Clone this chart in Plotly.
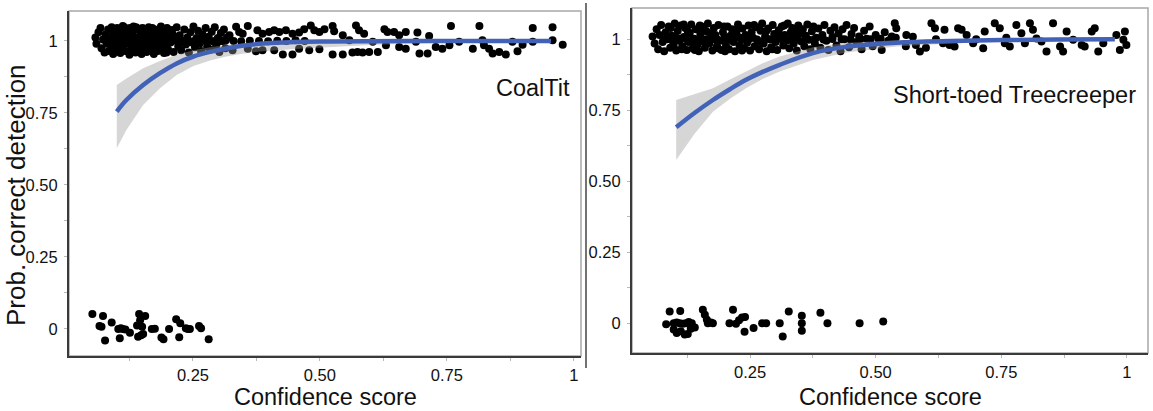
import plotly.graph_objects as go

# ---------------- CoalTit ----------------
coal_hit_x = [
    0.058, 0.060, 0.064, 0.068, 0.070, 0.073, 0.076, 0.078, 0.080, 0.083,
    0.085, 0.087, 0.089, 0.091, 0.093, 0.095, 0.097, 0.099, 0.101, 0.103,
    0.105, 0.107, 0.109, 0.111, 0.113, 0.115, 0.117, 0.119, 0.121, 0.123,
    0.125, 0.127, 0.129, 0.131, 0.133, 0.135, 0.137, 0.139, 0.141, 0.143,
    0.145, 0.147, 0.149, 0.151, 0.153, 0.155, 0.157, 0.159, 0.161, 0.163,
    0.165, 0.167, 0.169, 0.171, 0.173, 0.175, 0.177, 0.179, 0.181, 0.183,
    0.185, 0.187, 0.189, 0.191, 0.193, 0.195, 0.197, 0.199, 0.201, 0.203,
    0.206, 0.209, 0.212, 0.215, 0.218, 0.221, 0.224, 0.227, 0.230, 0.233,
    0.236, 0.239, 0.242, 0.245, 0.248, 0.251, 0.254, 0.257, 0.260, 0.263,
    0.266, 0.269, 0.272, 0.275, 0.278, 0.281, 0.284, 0.287, 0.290, 0.293,
    0.296, 0.299, 0.302, 0.305, 0.308, 0.311, 0.314, 0.317,
    0.082, 0.094, 0.102, 0.108, 0.116, 0.122, 0.128, 0.134, 0.140, 0.146,
    0.152, 0.158, 0.164, 0.170, 0.176, 0.182, 0.188, 0.194, 0.200, 0.210,
    0.220, 0.090, 0.112, 0.126, 0.138, 0.150, 0.162, 0.174, 0.186, 0.198,
    0.322, 0.328, 0.335, 0.341, 0.348, 0.358, 0.358, 0.374, 0.377, 0.387,
    0.387, 0.400, 0.410, 0.410, 0.420, 0.427, 0.433, 0.446, 0.446, 0.459,
    0.459, 0.469, 0.479, 0.482, 0.489, 0.499, 0.499, 0.509, 0.525, 0.525,
    0.528, 0.545, 0.545, 0.558, 0.564, 0.571, 0.574, 0.577, 0.584, 0.587,
    0.597, 0.604, 0.614, 0.627, 0.630, 0.633, 0.646, 0.656, 0.656, 0.669,
    0.669, 0.689, 0.692, 0.696, 0.712, 0.715, 0.728, 0.741, 0.755, 0.758,
    0.774, 0.801, 0.814, 0.820, 0.823, 0.833, 0.840, 0.853, 0.866, 0.879,
    0.889, 0.899, 0.919, 0.919, 0.958, 0.958, 0.978,
    0.110, 0.124, 0.136, 0.148, 0.160, 0.172, 0.184, 0.196, 0.208, 0.219,
    0.231, 0.243, 0.255, 0.267, 0.279, 0.291, 0.303, 0.315, 0.330, 0.345,
    0.362, 0.380, 0.398, 0.416, 0.434, 0.452, 0.470,
]
coal_hit_y = [
    1.012, 0.990, 1.030, 1.045, 0.975, 1.005, 0.960, 1.022, 0.990, 1.040,
    0.965, 1.010, 0.985, 1.035, 0.955, 1.000, 1.020, 0.970, 1.045, 0.990,
    1.010, 0.958, 1.030, 0.980, 1.000, 1.048, 0.965, 1.015, 0.990, 1.035,
    0.952, 1.005, 0.975, 1.025, 1.050, 0.985, 0.960, 1.012, 1.040, 0.995,
    0.970, 1.020, 0.955, 1.045, 1.000, 0.980, 1.030, 0.962, 1.010, 1.048,
    0.990, 0.968, 1.025, 1.002, 0.955, 1.040, 0.985, 1.015, 0.965, 1.035,
    0.995, 1.050, 0.975, 1.008, 0.958, 1.028, 0.988, 1.045, 0.970, 1.015,
    0.995, 1.038, 0.962, 1.005, 1.048, 0.982, 1.020, 0.968, 1.000, 1.040,
    0.988, 1.012, 0.960, 1.030, 0.995, 1.050, 0.978, 1.010, 1.035, 0.990,
    0.965, 1.022, 1.002, 1.045, 0.980, 1.015, 0.970, 1.032, 0.998, 1.048,
    0.985, 1.010, 0.962, 1.028, 1.000, 1.040, 0.975, 1.012,
    1.000, 1.025, 0.975, 1.040, 0.995, 1.020, 0.962, 1.008, 0.980, 1.042,
    1.018, 0.995, 0.972, 1.045, 1.012, 0.990, 1.030, 0.968, 1.000, 1.022,
    0.998, 1.048, 1.052, 1.045, 1.048, 0.985, 1.035, 0.985, 1.020, 0.960,
    1.020, 0.968, 1.049, 1.031, 1.025, 1.052, 0.973, 0.964, 1.037, 1.025,
    0.968, 1.031, 1.037, 0.968, 1.031, 0.953, 1.037, 1.025, 0.953, 1.029,
    0.973, 1.041, 0.968, 1.054, 1.037, 1.031, 0.971, 1.041, 1.052, 0.953,
    1.034, 1.020, 0.953, 1.002, 0.960, 1.054, 0.962, 1.037, 0.960, 1.025,
    0.962, 0.997, 0.962, 1.041, 0.985, 1.031, 1.031, 1.020, 0.979, 1.031,
    0.973, 0.997, 1.029, 0.956, 0.956, 1.017, 0.979, 0.973, 0.985, 1.052,
    0.997, 0.973, 1.052, 1.002, 0.985, 0.973, 0.956, 0.962, 0.953, 0.997,
    0.964, 0.987, 1.045, 0.997, 1.048, 1.002, 0.987,
    1.001, 0.999, 1.002, 1.000, 0.999, 1.001, 1.000, 1.002, 0.999, 1.001,
    1.000, 0.999, 1.002, 1.000, 1.001, 0.999, 1.000, 1.002, 1.000, 0.999,
    1.001, 1.000, 0.999, 1.001, 1.000, 1.002, 1.000,
]
coal_miss_x = [
    0.052, 0.073, 0.066, 0.070, 0.077, 0.090, 0.103, 0.108, 0.112, 0.117,
    0.106, 0.126, 0.144, 0.156, 0.140, 0.146, 0.150, 0.152, 0.142, 0.148,
    0.169, 0.175, 0.188, 0.192, 0.203, 0.217, 0.225, 0.236, 0.240, 0.244,
    0.223, 0.262, 0.266, 0.281,
]
coal_miss_y = [
    0.052, 0.045, 0.010, 0.008, -0.040, 0.022, 0.000, 0.002, 0.000, -0.002,
    -0.032, -0.013, 0.052, 0.045, 0.012, 0.030, 0.008, -0.018, -0.027, -0.022,
    0.000, 0.001, -0.030, -0.036, 0.000, 0.034, 0.020, 0.002, 0.000, 0.000,
    -0.029, 0.010, 0.002, -0.036,
]
coal_fit_x = [0.100, 0.119, 0.152, 0.185, 0.218, 0.251, 0.284, 0.316, 0.350,
              0.382, 0.450, 0.513, 0.600, 0.700, 0.800, 0.955]
coal_fit_y = [0.755, 0.795, 0.847, 0.888, 0.922, 0.946, 0.962, 0.974, 0.984,
              0.990, 0.996, 0.998, 0.999, 1.000, 1.000, 1.000]
coal_ci_hi = [0.847, 0.870, 0.905, 0.930, 0.952, 0.968, 0.978, 0.986, 0.991,
              0.995, 0.998, 0.999, 1.000, 1.000, 1.000, 1.000]
coal_ci_lo = [0.627, 0.691, 0.778, 0.836, 0.882, 0.913, 0.932, 0.946, 0.956,
              0.963, 0.972, 0.978, 0.986, 0.992, 0.995, 0.998]

# ---------------- Short-toed Treecreeper ----------------
tree_hit_x = [
    0.056, 0.060, 0.064, 0.067, 0.070, 0.073, 0.076, 0.079, 0.082, 0.085,
    0.088, 0.091, 0.094, 0.097, 0.100, 0.103, 0.106, 0.109, 0.112, 0.115,
    0.118, 0.121, 0.124, 0.127, 0.130, 0.133, 0.136, 0.139, 0.142, 0.145,
    0.148, 0.151, 0.154, 0.157, 0.160, 0.163, 0.166, 0.169, 0.172, 0.175,
    0.178, 0.181, 0.184, 0.187, 0.190, 0.193, 0.196, 0.199, 0.202, 0.205,
    0.208, 0.211, 0.214, 0.217, 0.220, 0.223, 0.226, 0.229, 0.232, 0.235,
    0.238, 0.241, 0.244, 0.247, 0.250, 0.253, 0.256, 0.259, 0.262, 0.265,
    0.268, 0.271, 0.274, 0.277, 0.280, 0.283, 0.286, 0.289, 0.292, 0.295,
    0.298, 0.301, 0.304, 0.307, 0.310, 0.313, 0.316, 0.319, 0.322, 0.325,
    0.328, 0.331, 0.334, 0.337, 0.340, 0.343, 0.346, 0.349, 0.352, 0.355,
    0.358, 0.361, 0.364, 0.367, 0.370, 0.373, 0.376, 0.379, 0.382, 0.386,
    0.390, 0.394, 0.398, 0.402, 0.406, 0.410, 0.414, 0.418, 0.422, 0.426,
    0.430, 0.434, 0.438, 0.442, 0.447, 0.452, 0.457, 0.462, 0.467, 0.472,
    0.477, 0.482, 0.488, 0.494, 0.500, 0.506, 0.512, 0.518, 0.525, 0.532,
    0.540,
    0.080, 0.092, 0.104, 0.114, 0.126, 0.138, 0.150, 0.162, 0.174, 0.186,
    0.198, 0.210, 0.222, 0.234, 0.246, 0.258, 0.270, 0.282, 0.294, 0.306,
    0.318, 0.330, 0.342, 0.098, 0.118, 0.140, 0.158, 0.180, 0.200, 0.230,
    0.538, 0.541, 0.561, 0.574, 0.588, 0.611, 0.618, 0.634, 0.637, 0.647,
    0.657, 0.664, 0.671, 0.681, 0.694, 0.714, 0.717, 0.737, 0.747, 0.757,
    0.767, 0.780, 0.790, 0.797, 0.807, 0.813, 0.820, 0.830, 0.840, 0.853,
    0.867, 0.873, 0.880, 0.893, 0.910, 0.916, 0.930, 0.936, 0.943, 0.953,
    0.979, 0.986, 0.993, 0.996, 0.999, 0.560, 0.580, 0.600, 0.620, 0.700,
    0.760,
    0.090, 0.108, 0.122, 0.136, 0.152, 0.168, 0.184, 0.200, 0.216, 0.232,
    0.248, 0.264, 0.280, 0.296, 0.312, 0.328, 0.344, 0.360, 0.378, 0.396,
    0.414, 0.432, 0.450, 0.470, 0.490, 0.510, 0.530,
]
tree_hit_y = [
    1.010, 0.985, 1.035, 0.965, 1.015, 1.050, 0.990, 0.958, 1.025, 1.000,
    1.045, 0.970, 1.012, 0.988, 1.055, 0.960, 1.030, 0.995, 1.048, 0.975,
    1.008, 1.040, 0.962, 0.990, 1.022, 1.052, 0.968, 1.002, 1.035, 0.980,
    0.958, 1.018, 1.045, 0.992, 0.970, 1.028, 1.055, 0.985, 1.005, 0.960,
    1.040, 1.015, 0.975, 1.050, 0.995, 0.962, 1.025, 1.008, 0.980, 1.045,
    0.965, 1.012, 1.035, 0.990, 0.958, 1.020, 1.052, 0.978, 1.000, 1.038,
    0.968, 1.015, 0.988, 1.048, 0.960, 1.025, 1.005, 0.975, 1.042, 0.995,
    0.965, 1.030, 1.055, 0.985, 1.010, 0.958, 1.038, 1.000, 0.972, 1.050,
    1.018, 0.990, 0.962, 1.032, 1.005, 1.045, 0.978, 1.015, 0.995, 1.055,
    0.968, 1.025, 1.040, 0.985, 1.008, 0.960, 1.048, 1.020, 0.992, 1.035,
    0.975, 1.012, 1.052, 0.998, 0.965, 1.028, 1.045, 0.985, 1.005, 1.038,
    0.970, 1.015, 1.050, 0.995, 0.962, 1.030, 1.008, 1.042, 0.978, 1.020,
    0.958, 1.035, 1.000, 1.050, 0.972, 1.018, 1.040, 0.990, 1.010, 0.965,
    1.030, 1.002, 1.045, 0.975, 1.015, 1.000, 0.962, 1.025, 0.995, 1.010,
    1.005,
    1.000, 1.040, 1.005, 0.965, 1.028, 0.990, 1.048, 1.000, 1.020, 0.968,
    1.045, 0.998, 1.030, 0.960, 1.010, 1.050, 0.990, 1.028, 0.965, 1.012,
    1.048, 0.998, 1.025, 0.975, 1.052, 0.962, 1.035, 1.000, 0.958, 1.005,
    1.056, 1.039, 1.015, 1.009, 0.957, 1.056, 1.039, 0.986, 1.033, 0.980,
    0.974, 1.039, 1.033, 1.015, 0.986, 0.968, 1.027, 1.056, 1.039, 0.986,
    0.974, 1.050, 1.021, 0.986, 1.056, 1.033, 1.003, 0.992, 0.957, 1.056,
    0.974, 0.957, 1.027, 0.998, 0.980, 0.974, 1.027, 1.039, 0.957, 0.986,
    1.015, 0.962, 0.998, 1.027, 0.980, 0.975, 0.980, 0.970, 1.000, 1.000,
    1.005,
    1.001, 0.999, 1.002, 1.000, 0.999, 1.001, 1.000, 1.002, 0.999, 1.001,
    1.000, 0.999, 1.002, 1.000, 1.001, 0.999, 1.000, 1.002, 1.000, 0.999,
    1.001, 1.000, 0.999, 1.001, 1.000, 1.002, 1.000,
]
tree_miss_x = [
    0.090, 0.111, 0.083, 0.098, 0.104, 0.110, 0.116, 0.122, 0.128, 0.134,
    0.098, 0.104, 0.112, 0.120, 0.126, 0.132, 0.140, 0.156, 0.160, 0.164,
    0.166, 0.172, 0.176, 0.216, 0.209, 0.222, 0.228, 0.234, 0.240, 0.239,
    0.257, 0.274, 0.282, 0.309, 0.315, 0.327, 0.353, 0.353, 0.353, 0.390,
    0.404, 0.468, 0.515,
]
tree_miss_y = [
    0.041, 0.043, -0.004, 0.000, 0.002, 0.000, -0.002, 0.000, 0.004, 0.000,
    -0.022, -0.035, -0.028, -0.040, -0.038, -0.020, -0.015, 0.047, 0.030, 0.012,
    0.000, 0.002, 0.000, 0.047, 0.000, -0.002, 0.010, 0.020, 0.022, -0.030,
    -0.017, 0.000, 0.000, 0.000, -0.047, 0.041, 0.026, 0.000, -0.027, 0.037,
    0.000, 0.000, 0.006,
]
tree_fit_x = [0.103, 0.140, 0.176, 0.210, 0.242, 0.275, 0.309, 0.375, 0.442,
              0.541, 0.650, 0.750, 0.860, 0.976]
tree_fit_y = [0.690, 0.741, 0.786, 0.824, 0.857, 0.885, 0.910, 0.951, 0.974,
              0.988, 0.994, 0.997, 0.999, 1.000]
tree_ci_hi = [0.786, 0.808, 0.827, 0.858, 0.886, 0.915, 0.939, 0.972, 0.988,
              0.996, 0.999, 1.000, 1.000, 1.000]
tree_ci_lo = [0.575, 0.668, 0.745, 0.790, 0.827, 0.860, 0.886, 0.927, 0.953,
              0.974, 0.985, 0.992, 0.996, 0.998]

species = ["CoalTit", "Short-toed Treecreeper"]

tick_vals = [0, 0.125, 0.25, 0.375, 0.5, 0.625, 0.75, 0.875, 1]
tick_text = ["0", "", "0.25", "", "0.50", "", "0.75", "", "1"]

FONT = "Liberation Sans, Arial, sans-serif"
W, H = 1153, 411

BAND = "rgba(153,153,153,0.4)"
LINE = "#4262b8"

fig = go.Figure()


def add_panel(xa, ya, hx, hy, mx, my, fx, fy, lo, hi):
    fig.add_trace(go.Scatter(x=hx + mx, y=hy + my, mode="markers",
                             marker=dict(color="black", size=8),
                             xaxis=xa, yaxis=ya, showlegend=False,
                             hoverinfo="skip"))
    fig.add_trace(go.Scatter(x=fx, y=hi, mode="lines", line=dict(width=0),
                             xaxis=xa, yaxis=ya, showlegend=False,
                             hoverinfo="skip"))
    fig.add_trace(go.Scatter(x=fx, y=lo, mode="lines", line=dict(width=0),
                             fill="tonexty", fillcolor=BAND,
                             xaxis=xa, yaxis=ya, showlegend=False,
                             hoverinfo="skip"))
    fig.add_trace(go.Scatter(x=fx, y=fy, mode="lines",
                             line=dict(color=LINE, width=4.5, shape="spline"),
                             xaxis=xa, yaxis=ya, showlegend=False,
                             hoverinfo="skip"))


add_panel("x", "y", coal_hit_x, coal_hit_y, coal_miss_x, coal_miss_y,
          coal_fit_x, coal_fit_y, coal_ci_lo, coal_ci_hi)
add_panel("x2", "y2", tree_hit_x, tree_hit_y, tree_miss_x, tree_miss_y,
          tree_fit_x, tree_fit_y, tree_ci_lo, tree_ci_hi)

# panel placement in pixels: (left, right, top, bottom)
panels = [(69, 581, 11, 356), (632, 1148, 8, 353)]
xranges = [[0.006, 1.014], [0.015, 1.042]]
yranges = [[-0.094, 1.104], [-0.105, 1.110]]

axis_common = dict(
    tickmode="array", tickvals=tick_vals, ticktext=tick_text,
    ticks="outside", ticklen=3, tickwidth=1, tickcolor="#b8b8b8",
    showgrid=False, zeroline=False, showline=True, linecolor="#3a3a3a",
    linewidth=2, tickfont=dict(family=FONT, size=16.5, color="#111"),
)

for i, (l, r, t, b) in enumerate(panels):
    sfx = "" if i == 0 else str(i + 1)
    fig.layout["xaxis" + sfx] = dict(
        domain=[l / W, r / W], range=xranges[i],
        anchor="y" + sfx, **axis_common)
    fig.layout["yaxis" + sfx] = dict(
        domain=[1 - b / H, 1 - t / H], range=yranges[i],
        anchor="x" + sfx, ticklabelstandoff=3, **axis_common)
    # light frame around the panel
    fig.add_shape(type="rect", xref="x%s domain" % sfx, yref="y%s domain" % sfx,
                  x0=0, x1=1, y0=0, y1=1, line=dict(color="#a8a8a8", width=1.5),
                  layer="below")
    fig.add_annotation(text="Confidence score", xref="paper", yref="paper",
                       x=(l + r) / 2 / W, y=1 - 397 / H, showarrow=False,
                       xanchor="center", yanchor="middle",
                       font=dict(family=FONT, size=23.5, color="#111"))

# species labels inside the panels
fig.add_annotation(text=species[0], xref="x", yref="y", x=0.996, y=0.837,
                   xanchor="right", yanchor="middle", showarrow=False,
                   font=dict(family=FONT, size=23.5, color="#111"))
fig.add_annotation(text=species[1], xref="x2", yref="y2", x=1.022, y=0.804,
                   xanchor="right", yanchor="middle", showarrow=False,
                   font=dict(family=FONT, size=23.5, color="#111"))

# shared y-axis title
fig.add_annotation(text="Prob. correct detection", xref="paper", yref="paper",
                   x=16 / W, y=1 - 195 / H, textangle=-90, showarrow=False,
                   xanchor="center", yanchor="middle",
                   font=dict(family=FONT, size=26, color="#111"))

# divider between the two panels
fig.add_shape(type="line", xref="paper", yref="paper",
              x0=586 / W, x1=586 / W, y0=1 - 368 / H, y1=1 - 3 / H,
              line=dict(color="#444", width=1.5))

fig.update_layout(width=W, height=H, margin=dict(l=0, r=0, t=0, b=0),
                  paper_bgcolor="white", plot_bgcolor="white")

fig.write_html("out.html")
